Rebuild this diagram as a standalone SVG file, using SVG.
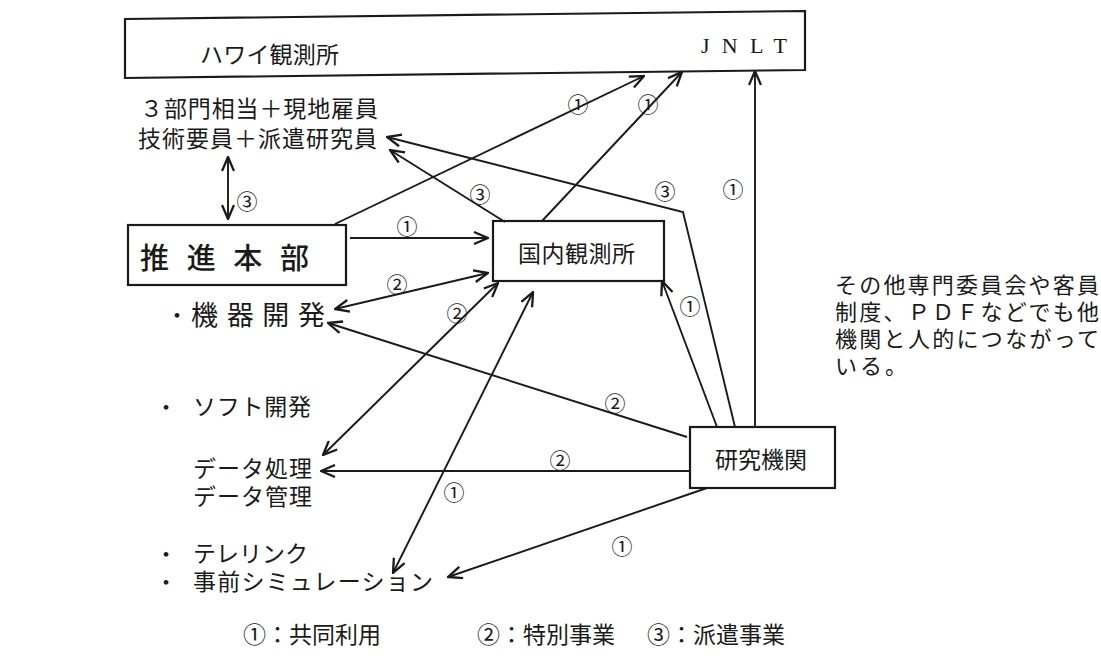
<svg xmlns="http://www.w3.org/2000/svg" width="1101" height="656" viewBox="0 0 1101 656">
  <style>
    .box { fill: #fff; stroke: #1a1a1a; stroke-width: 2.2; }
    .jp { font-family: "Noto Sans CJK JP", "Noto Sans", sans-serif; fill: #1a1a1a; dominant-baseline: central; }
    .serif { font-family: "Liberation Serif", serif; fill: #1a1a1a; dominant-baseline: central; }
    .ln { fill: none; stroke: #1a1a1a; stroke-width: 1.9; }
    .lbl { font-family: "Noto Sans CJK JP", sans-serif; font-size: 21px; fill: #1a1a1a; text-anchor: middle; dominant-baseline: central; }
  </style>
  <defs>
    <marker id="ah" viewBox="0 0 16 14" refX="15" refY="7" markerWidth="16" markerHeight="14" markerUnits="userSpaceOnUse" orient="auto-start-reverse">
      <path d="M1,1 L15,7 L1,13" fill="none" stroke="#1a1a1a" stroke-width="2.3"/>
    </marker>
  </defs>
  <rect width="1101" height="656" fill="#fff"/>

  <g id="hawaii">
    <polygon class="box" points="125,19 805,11 805,70 125,78"/>
    <text class="jp" x="200" y="53" font-size="23" textLength="139" lengthAdjust="spacing">ハワイ観測所</text>
    <text class="serif" x="701" y="45" font-size="22" textLength="86" lengthAdjust="spacing">JNLT</text>
  </g>

  <g id="staff">
    <text class="jp" x="140" y="107" font-size="23" textLength="238" lengthAdjust="spacing">３部門相当＋現地雇員</text>
    <text class="jp" x="138" y="137" font-size="23" textLength="239" lengthAdjust="spacing">技術要員＋派遣研究員</text>
  </g>

  <g id="suishin">
    <rect class="box" x="128" y="225" width="218" height="60"/>
    <text class="jp" x="140" y="256" font-size="29" font-weight="500" textLength="169" lengthAdjust="spacing">推進本部</text>
  </g>

  <g id="kokunai">
    <rect class="box" x="493" y="221" width="171" height="60"/>
    <text class="jp" x="518" y="252" font-size="23" textLength="117" lengthAdjust="spacing">国内観測所</text>
  </g>

  <g id="kenkyu">
    <rect class="box" x="690" y="427" width="145" height="61"/>
    <text class="jp" x="715" y="458" font-size="23" textLength="92" lengthAdjust="spacing">研究機関</text>
  </g>

  <g id="tasks">
    <text class="jp" x="177" y="313" font-size="22" text-anchor="middle">・</text>
    <text class="jp" x="191" y="313" font-size="27" textLength="134" lengthAdjust="spacing">機器開発</text>
    <text class="jp" x="166" y="405" font-size="22" text-anchor="middle">・</text>
    <text class="jp" x="193" y="405" font-size="23" textLength="118" lengthAdjust="spacing">ソフト開発</text>
    <text class="jp" x="193" y="467" font-size="23" textLength="119" lengthAdjust="spacing">データ処理</text>
    <text class="jp" x="193" y="495" font-size="23" textLength="119" lengthAdjust="spacing">データ管理</text>
    <text class="jp" x="166" y="552" font-size="22" text-anchor="middle">・</text>
    <text class="jp" x="193" y="552" font-size="23" textLength="115" lengthAdjust="spacing">テレリンク</text>
    <text class="jp" x="166" y="580" font-size="22" text-anchor="middle">・</text>
    <text class="jp" x="193" y="580" font-size="23" textLength="240" lengthAdjust="spacing">事前シミュレーション</text>
  </g>

  <g id="note">
    <text class="jp" x="835" y="283" font-size="22" textLength="264" lengthAdjust="spacing">その他専門委員会や客員</text>
    <text class="jp" x="835" y="310" font-size="22" textLength="264" lengthAdjust="spacing">制度、ＰＤＦなどでも他</text>
    <text class="jp" x="835" y="337" font-size="22" textLength="264" lengthAdjust="spacing">機関と人的につながって</text>
    <text class="jp" x="835" y="364" font-size="22" textLength="72" lengthAdjust="spacing">いる。</text>
  </g>

  <g id="legend">
    <text class="jp" x="243" y="633" font-size="23">①：共同利用</text>
    <text class="jp" x="477" y="633" font-size="23">②：特別事業</text>
    <text class="jp" x="647" y="633" font-size="23">③：派遣事業</text>
  </g>

  <g id="connectors">
    <line class="ln" x1="228" y1="157" x2="228" y2="219" marker-start="url(#ah)" marker-end="url(#ah)"/>
    <line class="ln" x1="350" y1="238" x2="488" y2="238" marker-end="url(#ah)"/>
    <line class="ln" x1="335" y1="309" x2="488" y2="273" marker-start="url(#ah)" marker-end="url(#ah)"/>
    <line class="ln" x1="323" y1="455" x2="498" y2="283" marker-start="url(#ah)" marker-end="url(#ah)"/>
    <line class="ln" x1="393" y1="573" x2="533" y2="292" marker-start="url(#ah)" marker-end="url(#ah)"/>
    <line class="ln" x1="335" y1="224" x2="644" y2="76" marker-end="url(#ah)"/>
    <line class="ln" x1="542" y1="221" x2="682" y2="72" marker-end="url(#ah)"/>
    <line class="ln" x1="505" y1="222" x2="390" y2="150" marker-end="url(#ah)"/>
    <polyline class="ln" points="735,427 683,212 387,137" marker-end="url(#ah)"/>
    <line class="ln" x1="755" y1="427" x2="755" y2="71" marker-end="url(#ah)"/>
    <line class="ln" x1="717" y1="427" x2="662" y2="281" marker-end="url(#ah)"/>
    <line class="ln" x1="687" y1="437" x2="328" y2="323" marker-end="url(#ah)"/>
    <line class="ln" x1="690" y1="471" x2="321" y2="471" marker-end="url(#ah)"/>
    <line class="ln" x1="707" y1="488" x2="448" y2="577" marker-end="url(#ah)"/>

    <text class="lbl" x="247" y="200">③</text>
    <text class="lbl" x="407" y="225">①</text>
    <text class="lbl" x="397" y="283">②</text>
    <text class="lbl" x="457" y="312">②</text>
    <text class="lbl" x="578" y="103">①</text>
    <text class="lbl" x="648" y="103">①</text>
    <text class="lbl" x="480" y="193">③</text>
    <text class="lbl" x="665" y="190">③</text>
    <text class="lbl" x="733" y="188">①</text>
    <text class="lbl" x="690" y="305">①</text>
    <text class="lbl" x="615" y="402">②</text>
    <text class="lbl" x="560" y="459">②</text>
    <text class="lbl" x="454" y="491">①</text>
    <text class="lbl" x="622" y="545">①</text>
  </g>
</svg>
